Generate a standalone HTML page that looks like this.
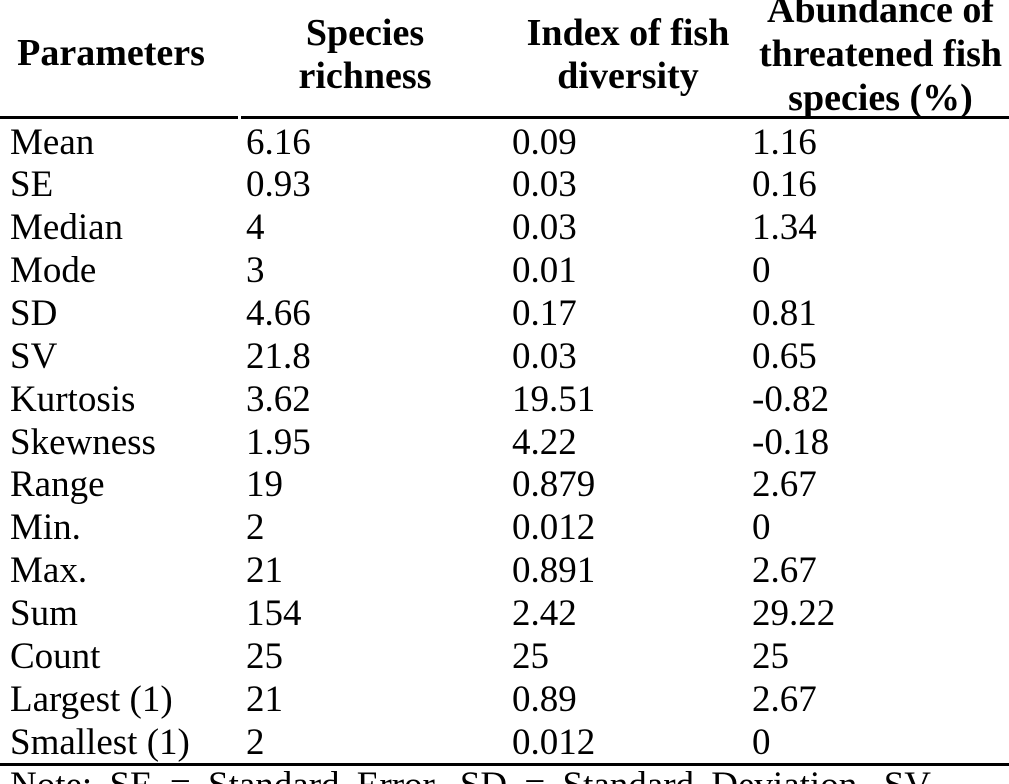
<!DOCTYPE html>
<html><head><meta charset="utf-8"><style>
html,body{margin:0;width:1009px;height:784px;overflow:hidden}
body{background:#fff;font-family:"Liberation Serif",serif;color:#000;position:relative}
.t{position:absolute;font-size:37px;line-height:43px;white-space:nowrap}
.h{position:absolute;font-size:38px;line-height:43px;font-weight:bold;text-align:center;white-space:nowrap}
.r{position:absolute;height:3px;background:#000}
</style></head><body>
<div class="h" style="left:0;width:222px;top:32px">Parameters</div>
<div class="h" style="left:265px;width:200px;top:12px">Species<br>richness</div>
<div class="h" style="left:510px;width:236px;top:12px">Index of fish<br>diversity</div>
<div class="h" style="left:752px;width:257px;top:-12px;line-height:44px">Abundance of<br>threatened fish<br>species (%)</div>
<div class="r" style="left:0;width:238px;top:116px"></div>
<div class="r" style="left:241px;width:768px;top:116px"></div>
<div id="rows"></div>
<div class="r" style="left:0;width:1009px;top:763px"></div>
<div class="t" style="left:10px;top:764px;word-spacing:8px">Note: SE = Standard Error, SD = Standard Deviation, SV</div>
<script>
var d=[["Mean","6.16","0.09","1.16"],["SE","0.93","0.03","0.16"],["Median","4","0.03","1.34"],["Mode","3","0.01","0"],["SD","4.66","0.17","0.81"],["SV","21.8","0.03","0.65"],["Kurtosis","3.62","19.51","-0.82"],["Skewness","1.95","4.22","-0.18"],["Range","19","0.879","2.67"],["Min.","2","0.012","0"],["Max.","21","0.891","2.67"],["Sum","154","2.42","29.22"],["Count","25","25","25"],["Largest (1)","21","0.89","2.67"],["Smallest (1)","2","0.012","0"]];
var x=[10,246,512,752],h="";
d.forEach(function(r,i){var y=142+i*42.86-21.5;r.forEach(function(c,j){h+='<div class="t" style="left:'+x[j]+'px;top:'+y+'px">'+c+'</div>';});});
document.getElementById("rows").innerHTML=h;
</script>
</body></html>
